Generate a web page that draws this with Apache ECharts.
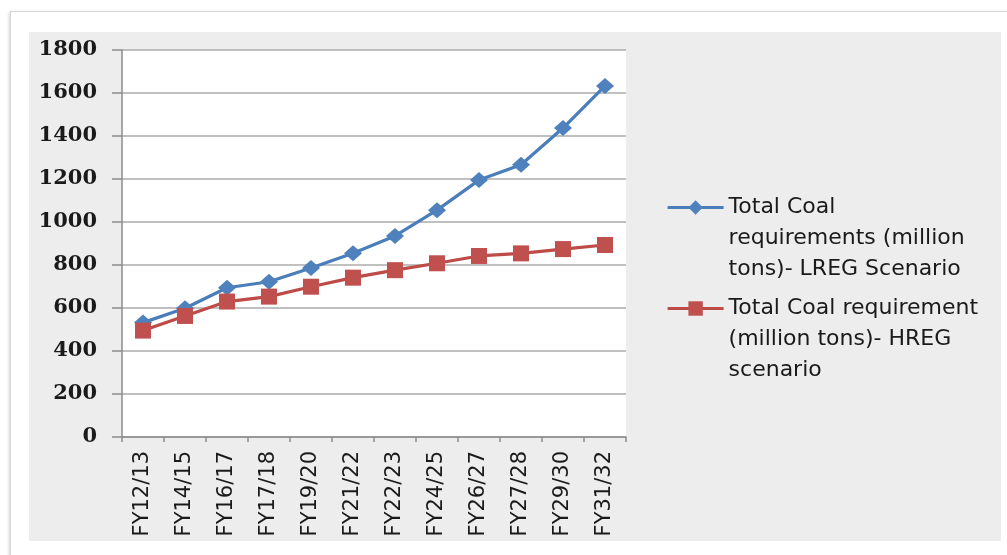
<!DOCTYPE html>
<html>
<head>
<meta charset="utf-8">
<script src="https://cdn.jsdelivr.net/npm/echarts@6/dist/echarts.min.js"></script>
<style>
  html, body { margin: 0; padding: 0; background: #fff; width: 1007px; height: 555px; overflow: hidden; }
  #frame { position: absolute; left: 10px; top: 11px; width: 1000px; height: 560px;
           border: 1px solid #d6d6d6; box-shadow: -1px 1px 3px rgba(0,0,0,0.18); background: #fff; }
  #panel { position: absolute; left: 29px; top: 32px; width: 972px; height: 509px; background: #ededed; }
  #chart { position: absolute; left: 0; top: 0; width: 1007px; height: 555px; }
</style>
</head>
<body>
<div id="frame"></div>
<div id="panel"></div>
<div id="chart"></div>
<script>
const categories = ['FY12/13','FY14/15','FY16/17','FY17/18','FY19/20','FY21/22','FY22/23','FY24/25','FY26/27','FY27/28','FY29/30','FY31/32'];
const lregValues = [532, 599, 694, 722, 786, 855, 935, 1055, 1195, 1266, 1437, 1633];
const hregValues = [495, 563, 630, 653, 699, 741, 776, 808, 842, 854, 874, 893];
const seriesNames = [
  'Total Coal requirements (million tons)- LREG Scenario',
  'Total Coal requirement (million tons)- HREG scenario'
];
const legendLines = [
  ['Total Coal', 'requirements (million', 'tons)- LREG Scenario'],
  ['Total Coal requirement', '(million tons)- HREG', 'scenario']
];
const yTicks = { min: 0, max: 1800, interval: 200 };

const chart = echarts.init(document.getElementById('chart'), null, { renderer: 'canvas' });

function legendFormatter(name) {
  const idx = seriesNames.indexOf(name);
  const lines = legendLines[idx].map(l => '{t|' + l + '}');
  return '{e| }\n' + lines.join('\n');
}
const legendText = {
  rich: {
    e: { lineHeight: 62, fontSize: 10 },
    t: { lineHeight: 31, fontSize: 22, fontFamily: 'DejaVu Sans', color: '#1a1a1a' }
  }
};
const legendCommon = {
  orient: 'vertical', left: 666, padding: 0,
  itemWidth: 56, itemHeight: 18, itemGap: 0,
  formatter: legendFormatter, textStyle: legendText,
  lineStyle: { width: 3.2 }
};

const option = {
  backgroundColor: 'transparent',
  animation: false,
  grid: { left: 122, right: 381, top: 50, bottom: 118, show: true, backgroundColor: '#ffffff', borderWidth: 0 },
  legend: [
    Object.assign({ data: [seriesNames[0]], top: 156 }, legendCommon),
    Object.assign({ data: [seriesNames[1]], top: 257 }, legendCommon)
  ],
  xAxis: {
    type: 'category',
    data: categories,
    boundaryGap: true,
    axisLine: { show: true, lineStyle: { color: '#8c8c8c', width: 1.5 } },
    axisTick: { show: true, length: 5, inside: false, alignWithLabel: false, lineStyle: { color: '#8c8c8c', width: 1.5 } },
    axisLabel: { rotate: 90, margin: 14, fontSize: 21, fontFamily: 'DejaVu Sans', color: '#1a1a1a' },
    splitLine: { show: false }
  },
  yAxis: {
    type: 'value',
    min: yTicks.min, max: yTicks.max, interval: yTicks.interval,
    axisLine: { show: true, lineStyle: { color: '#8c8c8c', width: 1.5 } },
    axisTick: { show: true, length: 10, lineStyle: { color: '#8c8c8c', width: 1.5 } },
    axisLabel: { margin: 25, fontSize: 21, fontWeight: 'bold', fontFamily: 'DejaVu Serif', color: '#1a1a1a',
                 formatter: v => String(v) },
    splitLine: { show: true, lineStyle: { color: '#ababab', width: 1.6 } }
  },
  series: [
    { name: seriesNames[0], type: 'line', data: lregValues,
      symbol: 'diamond', symbolSize: [18, 16],
      lineStyle: { color: '#4a7ebb', width: 3.2 },
      itemStyle: { color: '#4f81bd' }, z: 3 },
    { name: seriesNames[1], type: 'line', data: hregValues,
      symbol: 'rect', symbolSize: 16,
      lineStyle: { color: '#be4b48', width: 3.2 },
      itemStyle: { color: '#c0504d' }, z: 4 }
  ]
};
chart.setOption(option);
</script>
</body>
</html>
